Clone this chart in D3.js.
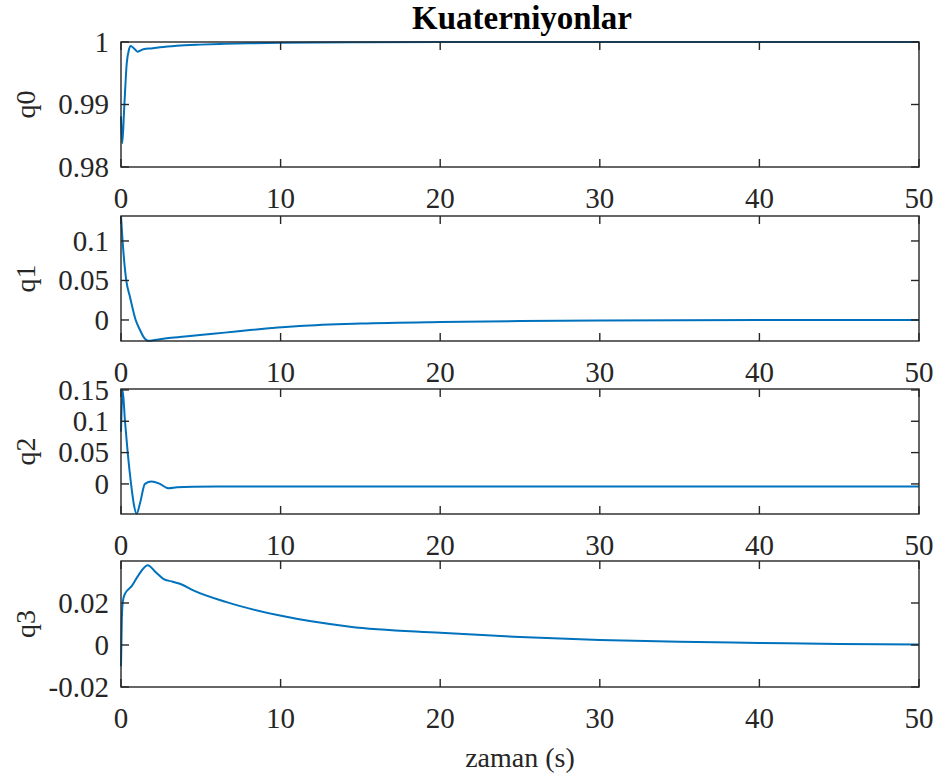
<!DOCTYPE html>
<html>
<head>
<meta charset="utf-8">
<script src="https://cdn.jsdelivr.net/npm/d3@7"></script>
<style>
  body { margin: 0; background: #fff; }
  text { font-family: "Liberation Serif", "Times New Roman", serif; fill: #262626; }
</style>
</head>
<body>
<script>
// ---------------- data ----------------
const xTicks = [0, 10, 20, 30, 40, 50];

const t0 = [0, 0.08, 0.2, 0.36, 0.5, 0.61, 0.8, 1.04, 1.4, 2.0, 2.44, 3.5, 4.95, 6.5, 8.08, 10, 12, 15, 20, 30, 40, 50];
const q0 = [0.9881, 0.9838, 0.9894, 0.9966, 0.9988, 0.99937, 0.9990, 0.99846, 0.99884, 0.9990, 0.99915, 0.9994, 0.99958, 0.9997, 0.9998, 0.99988, 0.99993, 0.99997, 1, 1, 1, 1];

const t1 = [0, 0.1, 0.33, 0.56, 0.92, 1.19, 1.4, 1.71, 2.2, 2.86, 4.0, 4.95, 6.5, 8.08, 11.2, 15, 20, 25, 30, 40, 50];
const q1 = [0.131, 0.1, 0.05, 0.0295, 0, -0.0127, -0.021, -0.0264, -0.025, -0.0232, -0.021, -0.019, -0.016, -0.0127, -0.0076, -0.0045, -0.0025, -0.0013, -0.0006, -0.0001, 0];

const t2 = [0, 0.1, 0.25, 0.42, 0.63, 0.8, 0.98, 1.2, 1.5, 1.92, 2.4, 2.97, 3.5, 4.5, 6, 10, 20, 30, 40, 50];
const q2 = [0.0835, 0.15, 0.1, 0.05, 0, -0.032, -0.0475, -0.03, 0, 0.0037, 0.0005, -0.007, -0.0055, -0.0045, -0.0043, -0.0043, -0.0043, -0.0043, -0.0043, -0.0043];

const t3 = [0, 0.05, 0.12, 0.25, 0.67, 1.1, 1.67, 2.2, 2.65, 3.2, 3.8, 4.53, 6.62, 9.96, 14.35, 20, 25, 30, 35, 40, 45, 50];
const q3 = [-0.0101, 0.012, 0.021, 0.0244, 0.028, 0.0333, 0.038, 0.0345, 0.0315, 0.0302, 0.0288, 0.026, 0.0204, 0.014, 0.0087, 0.0058, 0.0038, 0.0024, 0.0015, 0.001, 0.0005, 0.0002];

const panels = [
  { name: 'q0', t: t0, v: q0, domain: [0.98, 1],         ticks: [0.98, 0.99, 1],          top: 42,  bottom: 167 },
  { name: 'q1', t: t1, v: q1, domain: [-0.0266, 0.1316], ticks: [0, 0.05, 0.1],           top: 216, bottom: 341 },
  { name: 'q2', t: t2, v: q2, domain: [-0.048, 0.1515],  ticks: [0, 0.05, 0.1, 0.15],     top: 389, bottom: 514 },
  { name: 'q3', t: t3, v: q3, domain: [-0.02, 0.04],     ticks: [-0.02, 0, 0.02],         top: 561, bottom: 687 }
];

// ---------------- svg ----------------
const width = 941, height = 776;
const left = 121, right = 919;
const tickLen = 8;
const axisColor = '#262626';
const lineColor = '#0072BD';

const svg = d3.select('body').append('svg')
  .attr('width', width)
  .attr('height', height);

const x = d3.scaleLinear().domain([0, 50]).range([left, right]);

svg.append('text')
  .attr('x', (left + right) / 2 + 2)
  .attr('y', 29)
  .attr('text-anchor', 'middle')
  .style('font-size', '33px')
  .style('font-weight', 'bold')
  .style('fill', '#000')
  .text('Kuaterniyonlar');

panels.forEach(function (p) {
  const y = d3.scaleLinear().domain(p.domain).range([p.bottom, p.top]);
  const g = svg.append('g');

  // line
  const pts = p.t.map(function (t, i) { return [t, p.v[i]]; });
  const line = d3.line()
    .x(function (d) { return x(d[0]); })
    .y(function (d) { return y(d[1]); })
    .curve(d3.curveMonotoneX);

  g.append('path')
    .datum(pts)
    .attr('d', line)
    .style('fill', 'none')
    .style('stroke', lineColor)
    .style('stroke-width', 2);

  // axes: ticks inward, box on
  const ax = g.append('g').style('stroke', axisColor).style('stroke-width', 1.4).style('fill', 'none');
  ax.append('rect')
    .attr('x', left).attr('y', p.top)
    .attr('width', right - left).attr('height', p.bottom - p.top);

  xTicks.forEach(function (t) {
    ax.append('line').attr('x1', x(t)).attr('x2', x(t)).attr('y1', p.bottom).attr('y2', p.bottom - tickLen);
    ax.append('line').attr('x1', x(t)).attr('x2', x(t)).attr('y1', p.top).attr('y2', p.top + tickLen);
    g.append('text')
      .attr('x', x(t))
      .attr('y', p.bottom + 20)
      .attr('dy', '0.71em')
      .attr('text-anchor', 'middle')
      .style('font-size', '29px')
      .text(t);
  });

  p.ticks.forEach(function (v) {
    ax.append('line').attr('x1', left).attr('x2', left + tickLen).attr('y1', y(v)).attr('y2', y(v));
    ax.append('line').attr('x1', right).attr('x2', right - tickLen).attr('y1', y(v)).attr('y2', y(v));
    g.append('text')
      .attr('x', left - 12)
      .attr('y', y(v))
      .attr('dy', '0.34em')
      .attr('text-anchor', 'end')
      .style('font-size', '29px')
      .text(v);
  });

  // y label
  g.append('text')
    .attr('transform', 'translate(35,' + ((p.top + p.bottom) / 2) + ') rotate(-90)')
    .attr('text-anchor', 'middle')
    .style('font-size', '28px')
    .text(p.name);
});

svg.append('text')
  .attr('x', (left + right) / 2)
  .attr('y', 767)
  .attr('text-anchor', 'middle')
  .style('font-size', '28px')
  .text('zaman (s)');
</script>
</body>
</html>
